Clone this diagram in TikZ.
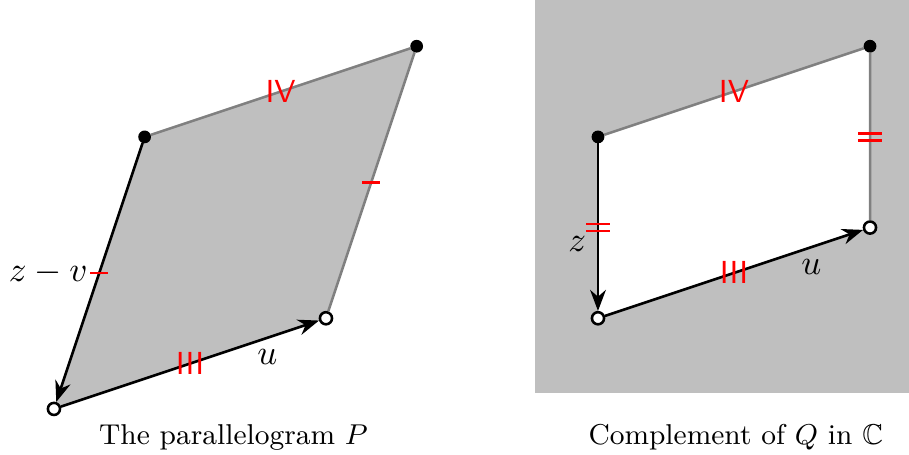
\documentclass[tikz,border=0pt]{standalone}
\usepackage{amsmath}
\usepackage{amssymb}
\usepackage{xcolor}
\usepackage{tikz}
\usetikzlibrary{arrows.meta,positioning,calc}

\begin{document}
\begin{tikzpicture}[
    >=Stealth,
    solid dot/.style={circle, draw, fill=black, inner sep=0pt, minimum size=3.6pt},
    hollow/.style={circle, draw, thick, fill=white, inner sep=0pt, minimum size=3.8pt},
    side/.style={thick, ->},
    rim/.style={thick, gray},
    lbl/.style={font=\fontsize{11.2}{13}\selectfont},
    tally/.style={red, font=\sffamily, inner sep=0pt}
]
    \useasboundingbox (-0.595,-0.507) rectangle (9.43,4.51);

    % left: the parallelogram
    \coordinate (A) at (0,0);
    \coordinate (B) at (3,1);
    \coordinate (C) at (4,4);
    \coordinate (D) at (1,3);
    \fill[lightgray] (A) -- (B) -- (C) -- (D) -- cycle;

    % right: the complement
    \fill[lightgray] (5.3,0.18) rectangle (9.43,4.51);
    \coordinate (E) at (6,1);
    \coordinate (F) at (9,2);
    \coordinate (G) at (9,4);
    \coordinate (H) at (6,3);
    \fill[white] (E) -- (F) -- (G) -- (H) -- cycle;

    \node[hollow] (a) at (A) {};
    \node[hollow] (b) at (B) {};
    \node[solid dot] (c) at (C) {};
    \node[solid dot] (d) at (D) {};
    \node[hollow] (e) at (E) {};
    \node[hollow] (f) at (F) {};
    \node[solid dot] (g) at (G) {};
    \node[solid dot] (h) at (H) {};

    \draw[rim] (b) -- (c) -- (d);
    \draw[side] (d) -- node[lbl, left] {$z-v$} (a);
    \draw[side] (a) -- node[lbl, pos=0.8, below] {$u$} (b);

    \draw[rim] (f) -- (g) -- (h);
    \draw[side] (h) -- node[lbl, pos=0.6, left] {$z$} (e);
    \draw[side] (e) -- node[lbl, pos=0.8, below] {$u$} (f);

    % edge marks
    \node[tally] (m1) at ($(A)!0.5!(B)$) {III};
    \node[tally] (m2) at ($(D)!0.5!(C)$) {IV};
    \node[tally] (m3) at ($(E)!0.5!(F)$) {III};
    \node[tally] (m4) at ($(H)!0.5!(G)$) {IV};
    \draw[red, thick] ($(A)!0.5!(D)+(-0.1,0)$) -- ++(0.2,0);
    \draw[red, thick] ($(B)!0.5!(C)+(-0.1,0)$) -- ++(0.2,0);
    \draw[red, thick] ($(E)!0.5!(H)+(-0.13,0.04)$) -- ++(0.26,0)
                      ($(E)!0.5!(H)+(-0.13,-0.04)$) -- ++(0.26,0);
    \draw[red, thick] ($(F)!0.5!(G)+(-0.13,0.04)$) -- ++(0.26,0)
                      ($(F)!0.5!(G)+(-0.13,-0.04)$) -- ++(0.26,0);

    \node[font=\small] (cap1) at (1.98,-0.31) {The parallelogram $P$};
    \node[font=\small] (cap2) at (7.52,-0.31) {Complement of $Q$ in $\mathbb{C}$};
\end{tikzpicture}
\end{document}
